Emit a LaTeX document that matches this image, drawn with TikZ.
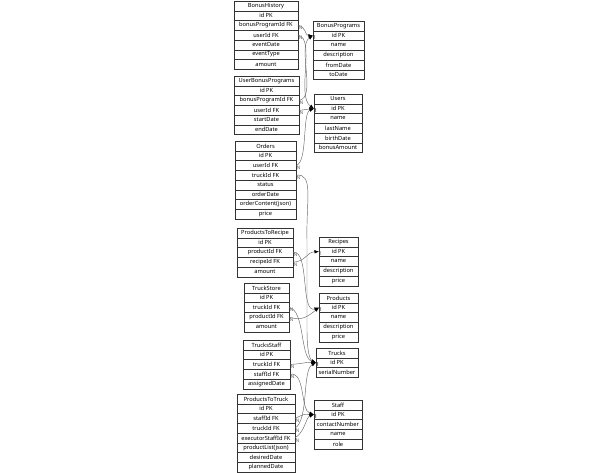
\documentclass[tikz,border=0pt]{standalone}
\usepackage{fontspec}
\setmainfont{Noto Sans}
\usetikzlibrary{positioning,arrows.meta}
\tikzset{>=latex}
\tikzstyle{cell}=[draw=black!80,line width=0.5pt,inner sep=0pt,outer sep=0pt,
                  minimum height=9.75pt,font=\fontsize{5.7}{6}\selectfont]
\tikzstyle{fkline}=[-{Latex[length=4.5pt,width=3.5pt,black]},black!60,line width=0.45pt]
\tikzstyle{manylabel}=[anchor=north west,inner sep=0.4pt,font=\fontsize{5}{5}\selectfont]
\tikzstyle{onelabel}=[anchor=north west,inner sep=0.2pt,font=\fontsize{5}{5}\selectfont]

% one table: name, top left corner, width, title, rows
\newcommand{\dbtable}[5]{%
  \node[cell,minimum width=#3,anchor=north west] (#1-0) at #2 {#4};
  \foreach \txt [count=\i] in {#5}{
    \pgfmathtruncatemacro\prev{\i-1}
    \node[cell,minimum width=#3,below=0pt of #1-\prev] (#1-\i) {\txt};
  }%
}
% one relation: from (N side), to (1 side), curve between
\newcommand{\relation}[3]{%
  \draw[fkline] (#1) node[manylabel] {N} #3 (#2) node[onelabel] {1};%
}

\begin{document}
\begin{tikzpicture}[x=1pt,y=-1pt]
  \useasboundingbox (0,0) rectangle (598,472);

  % tables
  \dbtable{bh}{(234,1)}{64pt}{BonusHistory}{id PK,bonusProgramId FK,userId FK,eventDate,eventType,amount}
  \dbtable{bp}{(313,21)}{51pt}{BonusPrograms}{id PK,name,description,fromDate,toDate}
  \dbtable{ubp}{(234,76)}{65pt}{UserBonusPrograms}{id PK,bonusProgramId FK,userId FK,startDate,endDate}
  \dbtable{usr}{(314,94)}{48pt}{Users}{id PK,name,lastName,birthDate,bonusAmount}
  \dbtable{ord}{(235,141)}{61pt}{Orders}{id PK,userId FK,truckId FK,status,orderDate,orderContent(json),price}
  \dbtable{ptr}{(237,228)}{56pt}{ProductsToRecipe}{id PK,productId FK,recipeId FK,amount}
  \dbtable{rec}{(319,237)}{39pt}{Recipes}{id PK,name,description,price}
  \dbtable{ts}{(244,283)}{45pt}{TruckStore}{id PK,truckId FK,productId FK,amount}
  \dbtable{prd}{(319,293)}{39pt}{Products}{id PK,name,description,price}
  \dbtable{tst}{(243,340)}{47pt}{TrucksStaff}{id PK,truckId FK,staffId FK,assignedDate}
  \dbtable{trk}{(316,348)}{42pt}{Trucks}{id PK,serialNumber}
  \dbtable{ptt}{(237,394)}{58pt}{ProductsToTruck}{id PK,staffId FK,truckId FK,executorStaffId FK,productList(json),desiredDate,plannedDate}
  \dbtable{stf}{(314,400)}{48pt}{Staff}{id PK,contactNumber,name,role}

  % relations
  \relation{bh-2.east}{bp-1.west}{.. controls (306,26) and (305,36) ..}
  \relation{bh-3.east}{usr-1.west}{.. controls (316,38) and (296,96) ..}
  \relation{ubp-2.east}{bp-1.west}{.. controls (317,98) and (297,46) ..}
  \relation{ubp-3.east}{usr-1.west}{.. controls (306,110) and (307,109) ..}
  \relation{ord-2.east}{usr-1.west}{.. controls (308,163) and (302,113) ..}
  \relation{ord-3.east}{trk-1.west}{.. controls (314,173) and (306,200) .. (307,240) -- (307,330) .. controls (307,352) and (310,360) ..}
  \relation{ptr-2.east}{prd-1.west}{.. controls (310,250) and (300,314) ..}
  \relation{ptr-3.east}{rec-1.west}{.. controls (305,262) and (307,252) ..}
  \relation{ts-2.east}{trk-1.west}{.. controls (305,310) and (300,358) ..}
  \relation{ts-3.east}{prd-1.west}{.. controls (302,321) and (307,317) ..}
  \relation{tst-2.east}{trk-1.west}{.. controls (302,364) and (305,362) ..}
  \relation{tst-3.east}{stf-1.west}{.. controls (306,372) and (300,410) ..}
  \relation{ptt-2.east}{stf-1.west}{.. controls (304,414) and (305,414) ..}
  \relation{ptt-3.east}{trk-1.west}{.. controls (309,420) and (302,370) ..}
  \relation{ptt-4.east}{stf-1.west}{.. controls (305,432) and (306,417) ..}

\end{tikzpicture}
\end{document}
